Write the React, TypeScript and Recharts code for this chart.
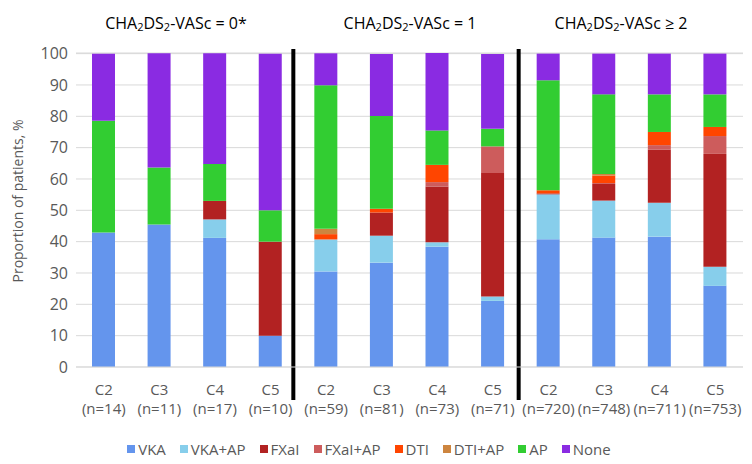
import React from 'react';
import { BarChart, Bar, XAxis, YAxis, CartesianGrid, Legend, ReferenceLine } from 'recharts';

// CHA2DS2-VASc groups, four clusters each
const categories = ['C2', 'C3', 'C4', 'C5', 'C2', 'C3', 'C4', 'C5', 'C2', 'C3', 'C4', 'C5'];
const counts = [14, 11, 17, 10, 59, 81, 73, 71, 720, 748, 711, 753];
const groupScores = ['= 0*', '= 1', '≥ 2'];

// % of patients per treatment, stacked bottom -> top
const vka = [42.9, 45.5, 41.2, 10, 30.5, 33.3, 38.4, 21.1, 40.8, 41.3, 41.6, 25.9];
const vkaAp = [0, 0, 5.9, 0, 10.2, 8.6, 1.4, 1.4, 14.3, 11.8, 10.8, 6.1];
const fxai = [0, 0, 5.9, 30, 0, 7.4, 17.8, 39.4, 0.3, 5.3, 17.0, 36.0];
const fxaiAp = [0, 0, 0, 0, 0, 0, 1.4, 8.5, 0, 0.3, 1.4, 5.7];
const dti = [0, 0, 0, 0, 1.7, 1.2, 5.5, 0, 1.0, 2.4, 4.2, 2.9];
const dtiAp = [0, 0, 0, 0, 1.7, 0, 0, 0, 0, 0.5, 0, 0];
const ap = [35.7, 18.2, 11.8, 10, 45.8, 29.6, 11.0, 5.6, 35.1, 25.4, 12.0, 10.4];
const none = [21.4, 36.4, 35.3, 50, 10.2, 19.8, 24.7, 23.9, 8.5, 13.0, 13.0, 13.0];

const yTicks = [0, 10, 20, 30, 40, 50, 60, 70, 80, 90, 100];

const series = [
  { key: 'VKA', values: vka, color: '#6495ED' },
  { key: 'VKA+AP', values: vkaAp, color: '#87CEEB' },
  { key: 'FXaI', values: fxai, color: '#B22222' },
  { key: 'FXaI+AP', values: fxaiAp, color: '#CD5C5C' },
  { key: 'DTI', values: dti, color: '#FF4500' },
  { key: 'DTI+AP', values: dtiAp, color: '#CD853F' },
  { key: 'AP', values: ap, color: '#32CD32' },
  { key: 'None', values: none, color: '#8A2BE2' },
];

const rows = categories.map((cat, i) => {
  const row: Record<string, number | string> = { id: i, cat };
  series.forEach((s) => { row[s.key] = s.values[i]; });
  return row;
});

const FONT = '"Open Sans", sans-serif';
const GREY = '#595959';

function CatTick({ x, y, payload }: any) {
  const i = Number(payload.value);
  return (
    <g transform={`translate(${x},${y})`}>
      <text textAnchor="middle" fill={GREY} fontSize={15} fontFamily={FONT}>
        <tspan x={0} dy={20}>{categories[i]}</tspan>
        <tspan x={0} dy={19}>{`(n=${counts[i]})`}</tspan>
      </text>
    </g>
  );
}

// legend keeps the stacking order (recharts would sort it)
function LegendBox() {
  return (
    <div style={{ display: 'flex', justifyContent: 'center', alignItems: 'center', height: 24, fontFamily: FONT, fontSize: 15, color: GREY }}>
      {series.map((s) => (
        <span key={s.key} style={{ display: 'inline-flex', alignItems: 'center', marginRight: 14 }}>
          <span style={{ width: 8, height: 8, background: s.color, marginRight: 3, display: 'inline-block' }} />
          {s.key}
        </span>
      ))}
    </div>
  );
}

// hand-drawn separators sit a little off the category boundary
const divider = (shift: number) => (p: any) => (
  <line x1={p.x1 + shift} y1={p.y1} x2={p.x2 + shift} y2={p.y2} stroke="#000" strokeWidth={4} />
);

function Title({ score, center }: { score: string; center: number }) {
  const sub = { fontSize: 11, verticalAlign: '-2px' } as const;
  return (
    <div style={{ position: 'absolute', top: 12, left: center, transform: 'translateX(-50%)', whiteSpace: 'nowrap', fontFamily: FONT, fontSize: 16, lineHeight: '22px', color: '#000' }}>
      CHA<span style={sub}>2</span>DS<span style={sub}>2</span>-VASc {score}
    </div>
  );
}

export default function App() {
  return (
    <div style={{ position: 'relative', width: 752, height: 464, background: '#fff' }}>
      <style>{'body{margin:0}'}</style>
      <Title score={groupScores[0]} center={176} />
      <Title score={groupScores[1]} center={410} />
      <Title score={groupScores[2]} center={621} />
      <BarChart width={752} height={464} data={rows} margin={{ top: 53, right: 9, left: 10, bottom: 3 }}>
        <CartesianGrid vertical={false} stroke="#D9D9D9" />
        <XAxis dataKey="id" type="category" tick={<CatTick />} tickLine={false} axisLine={{ stroke: '#D9D9D9' }} height={70} interval={0} />
        <YAxis domain={[0, 100]} ticks={yTicks} width={66} tickLine={false} axisLine={false}
          tick={{ fontSize: 16, fill: GREY, fontFamily: FONT }}
          label={{ value: 'Proportion of patients, %', angle: -90, position: 'insideLeft', offset: 8, dy: -9, style: { textAnchor: 'middle', fill: GREY, fontSize: 14, fontFamily: FONT } }} />
        <Legend verticalAlign="bottom" height={24} content={<LegendBox />} wrapperStyle={{ left: 0, width: 752 }} />
        {series.map((s) => (
          <Bar key={s.key} dataKey={s.key} name={s.key} stackId="a" fill={s.color} barSize={23} isAnimationActive={false} />
        ))}
        <ReferenceLine segment={[{ x: 3, y: -10.5 }, { x: 3, y: 101.5 }]} position="end" ifOverflow="visible" shape={divider(-5)} />
        <ReferenceLine segment={[{ x: 7, y: -10.5 }, { x: 7, y: 101.5 }]} position="end" ifOverflow="visible" shape={divider(-2)} />
      </BarChart>
    </div>
  );
}
